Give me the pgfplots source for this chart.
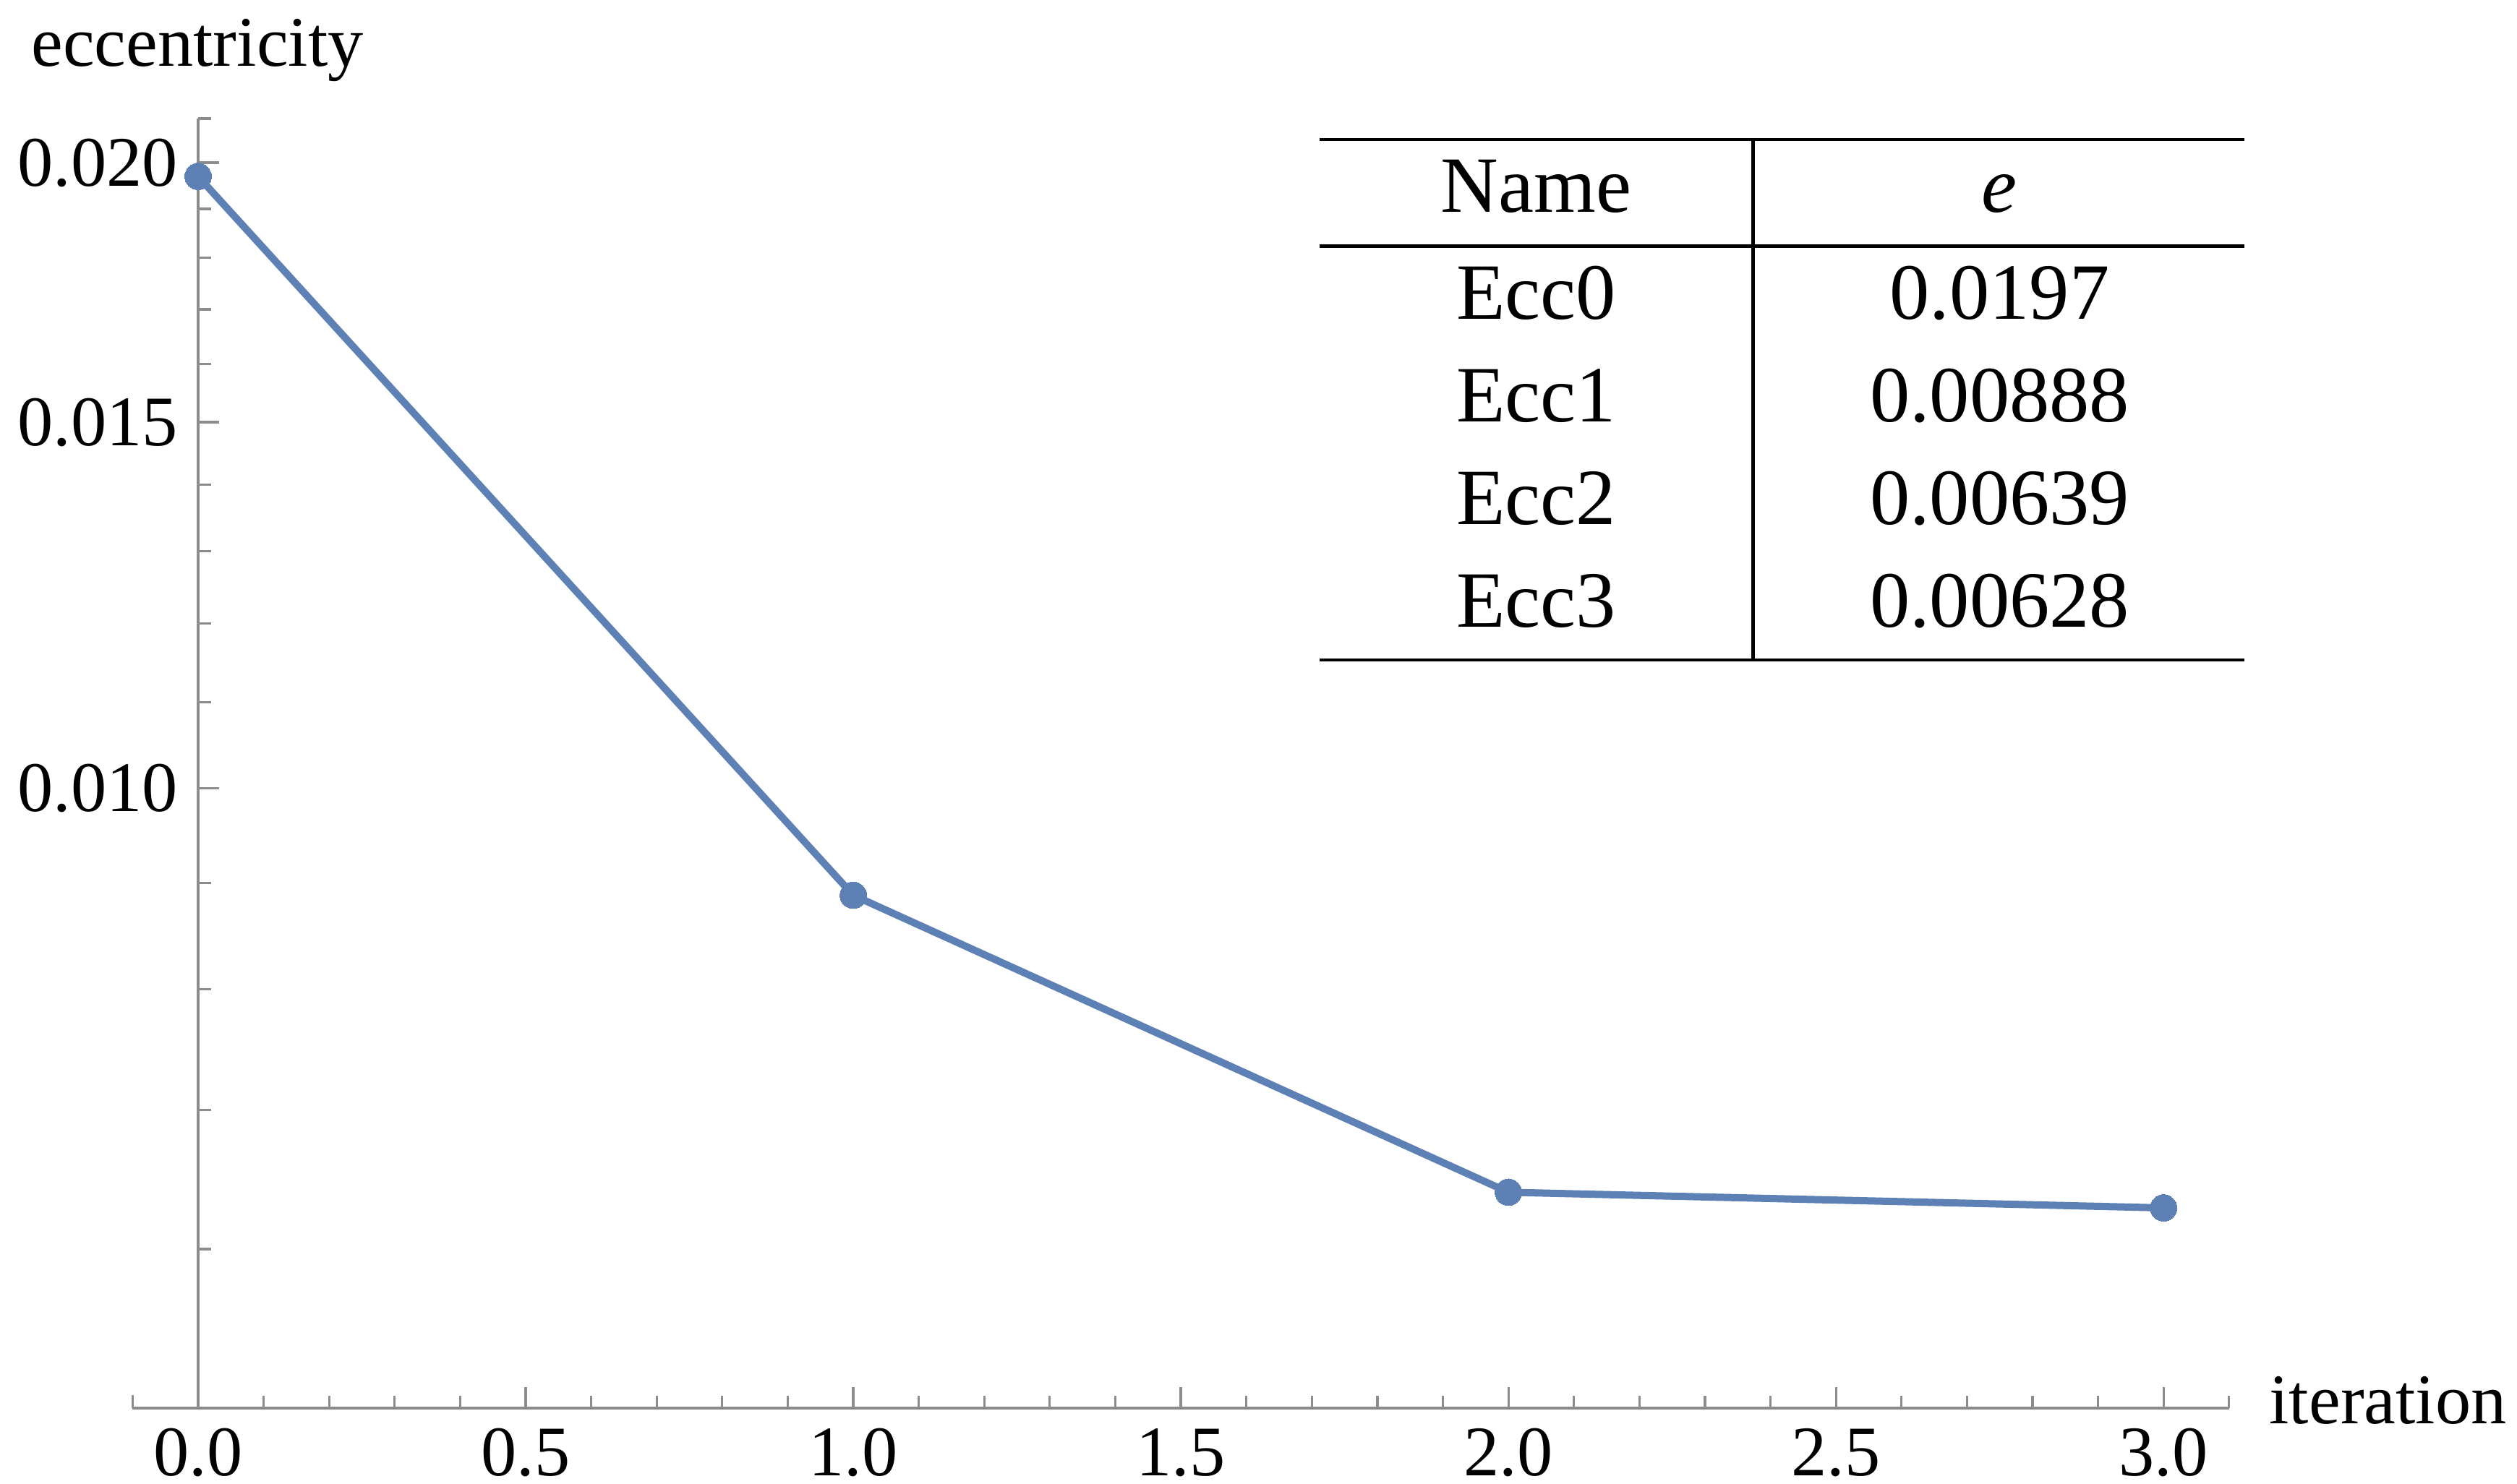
\documentclass[border=0pt]{standalone}
\usepackage{fontspec}
\setmainfont{Liberation Serif}
\usepackage{pgfplots}
\pgfplotsset{compat=1.18}
\definecolor{mmablue}{RGB}{94,129,181}
\definecolor{axisgray}{gray}{0.55}
\newcommand\headstrut{\rule[-5.6pt]{0pt}{17.8pt}}
\newcommand\rowstrut{\rule[-5.4pt]{0pt}{17.75pt}}
\newcommand\tickfont{\fontsize{12.3}{14}\selectfont}

\begin{document}
\begin{tikzpicture}
\useasboundingbox (-34.25pt,-13.1pt) rectangle (400.875pt,243.5pt);
\begin{axis}[
  scale only axis,
  width=351.1pt, height=223pt,
  xmin=0, xmax=3.1,
  ymode=log, ymin=0.00503, ymax=0.0210,
  axis x line=bottom, axis y line=left,
  axis line style={draw=axisgray, line width=0.4pt, -},
  xtick={0,0.5,1,1.5,2,2.5,3},
  xticklabels={\textrm{0.0},\textrm{0.5},\textrm{1.0},\textrm{1.5},\textrm{2.0},\textrm{2.5},\textrm{3.0}},
  minor xtick={0.1,0.2,0.3,0.4,0.6,0.7,0.8,0.9,1.1,1.2,1.3,1.4,1.6,1.7,1.8,1.9,2.1,2.2,2.3,2.4,2.6,2.7,2.8,2.9,3.1},
  ytick={0.01,0.015,0.02},
  yticklabels={\textrm{0.010},\textrm{0.015},\textrm{0.020}},
  minor ytick={0.006,0.007,0.008,0.009,0.011,0.012,0.013,0.014,0.016,0.017,0.018,0.019,0.021},
  tick align=inside,
  major tick length=3.6pt, minor tick length=2.2pt,
  every tick/.style={axisgray, line width=0.4pt},
  ticklabel style={font=\tickfont, text=black},
  xlabel={iteration}, ylabel={eccentricity},
  every axis x label/.style={at={(axis description cs:1.0193,-0.0118)}, anchor=base west, inner sep=0pt, font=\tickfont},
  every axis y label/.style={at={(axis description cs:-0.0826,1.0404)}, anchor=base west, inner sep=0pt, font=\tickfont},
  clip=false,
]
% the horizontal axis runs on a little to the left of the vertical one
\draw[axisgray, line width=0.4pt] (axis cs:-0.1,0.00503) -- (axis cs:0,0.00503);
\draw[axisgray, line width=0.4pt] (axis cs:-0.1,0.00503) -- ++(0pt,2.2pt);

\addplot[mmablue, line width=1.25pt, line join=round, mark=*, mark size=2.3pt,
  mark options={fill=mmablue, draw=mmablue, line width=0pt}]
  coordinates {(0,0.0197) (1,0.00888) (2,0.00639) (3,0.00628)};

% summary table of the eccentricity per iteration
\node[anchor=north west, inner sep=0pt, font=\fontsize{13.8}{15}\selectfont]
  at (rel axis cs:0.5515,0.986) {%
  \setlength\arrayrulewidth{0.6pt}%
  \begin{tabular}{@{}c@{}|@{}c@{}}
  \hline
  \makebox[75pt]{\headstrut Name} & \makebox[84.6pt]{\textit{e}} \\
  \hline
  \makebox[75pt]{\rowstrut Ecc0} & \makebox[84.6pt]{0.0197} \\
  \makebox[75pt]{\rowstrut Ecc1} & \makebox[84.6pt]{0.00888} \\
  \makebox[75pt]{\rowstrut Ecc2} & \makebox[84.6pt]{0.00639} \\
  \makebox[75pt]{\rowstrut Ecc3} & \makebox[84.6pt]{0.00628} \\
  \hline
  \end{tabular}};
\end{axis}
\end{tikzpicture}
\end{document}
